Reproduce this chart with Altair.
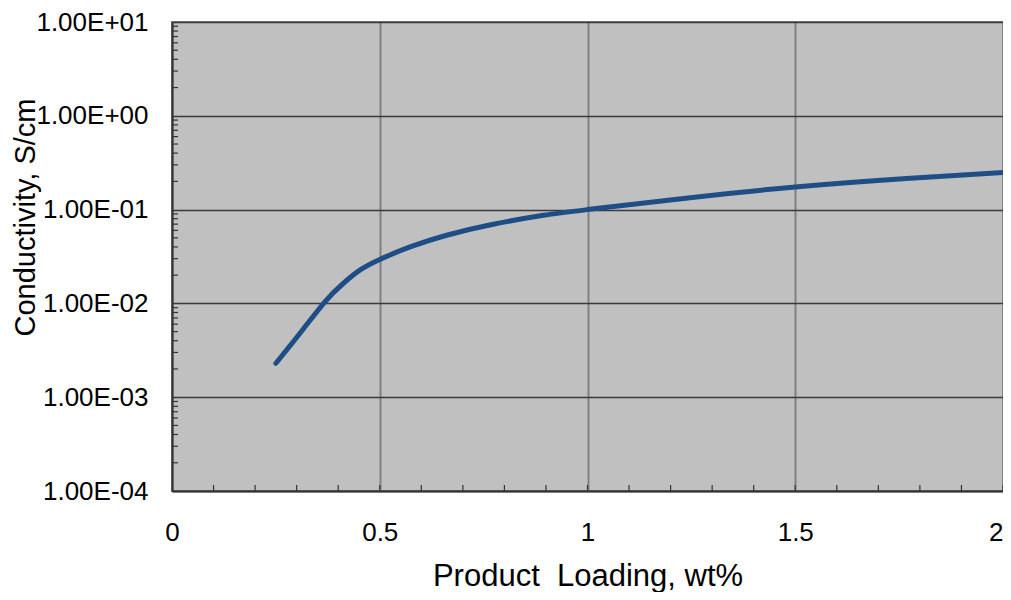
import altair as alt
import pandas as pd

# Curve
loading = [0.25, 0.308, 0.368, 0.412, 0.452, 0.50, 0.573, 0.661, 0.773, 0.894,
           1.0, 1.247, 1.5, 1.768, 2.0]
conductivity = [0.00230, 0.00480, 0.0104, 0.0163, 0.0226, 0.0294, 0.0400, 0.0533,
                0.0698, 0.0869, 0.100, 0.134, 0.174, 0.214, 0.248]

x_ticks = [0, 0.5, 1, 1.5, 2]
y_ticks = [1e-4, 1e-3, 1e-2, 1e-1, 1e0, 1e1]
x_minor = [round(0.1 * i, 1) for i in range(1, 21)]
y_minor = [m * 10.0 ** k for k in range(-4, 1) for m in range(2, 10)]

FONT = "Liberation Sans"

df = pd.DataFrame({"x": loading, "y": conductivity})
dfx = pd.DataFrame({"x": x_minor})
dfy = pd.DataFrame({"y": y_minor})

xscale = alt.Scale(domain=[0, 2], nice=False, zero=False)
yscale = alt.Scale(type="log", domain=[1e-4, 10], nice=False)

xaxis = alt.Axis(
    values=x_ticks, format=".1~f", title="Product \u00a0Loading, wt%", grid=True,
    gridColor="#808080", gridWidth=2, tickSize=0, domainColor="#333333", domainWidth=2,
    labelFont=FONT, labelFontSize=26, labelColor="#000000", labelPadding=28,
    labelFlush=False, labelOverlap=False,
    labelAlign={"condition": {"test": "datum.value >= 2", "value": "right"}, "value": "center"},
    titleFont=FONT, titleFontSize=31, titleFontWeight="normal", titleColor="#000000",
    titleBaseline="alphabetic", titleY=94, titleAnchor="middle",
)
yaxis = alt.Axis(
    values=y_ticks, title="Conductivity, S/cm", grid=True, gridColor="#3a3a3a",
    gridWidth=1.3, tickSize=0, domainColor="#333333", domainWidth=2,
    labelFont=FONT, labelFontSize=26, labelColor="#000000", labelPadding=24,
    labelFlush=False, labelOverlap=False,
    labelExpr="'1.00E' + (datum.value < 1 ? '-' : '+') + '0' + abs(round(log(datum.value) / LN10))",
    titleFont=FONT, titleFontSize=29, titleFontWeight="normal", titleColor="#000000",
    titleAngle=270, titleBaseline="alphabetic", titleAlign="center",
    titleX=-138, titleY=195,
)

line = alt.Chart(df).mark_line(
    color="#1F4E86", strokeWidth=5, interpolate="natural", strokeCap="round"
).encode(
    x=alt.X("x:Q", scale=xscale, axis=xaxis),
    y=alt.Y("y:Q", scale=yscale, axis=yaxis),
)

xt = alt.Chart(dfx).mark_rule(color="#333333", strokeWidth=1.2).encode(
    x=alt.X("x:Q", scale=xscale, axis=xaxis),
    y=alt.value(469),
    y2=alt.value(463),
)

yt = alt.Chart(dfy).mark_rule(color="#333333", strokeWidth=1.2).encode(
    y=alt.Y("y:Q", scale=yscale, axis=yaxis),
    x=alt.value(0),
    x2=alt.value(6),
)

chart = alt.layer(yt, xt, line).properties(
    width=831, height=469,
    padding={"left": 164, "top": 14, "right": 0, "bottom": 101},
    autosize="none",
    background="#ffffff",
).configure_view(
    fill="#C0C0C0", stroke="#808080", strokeWidth=2
)

chart.save("out.html", embed_options={"renderer": "svg", "actions": False})
